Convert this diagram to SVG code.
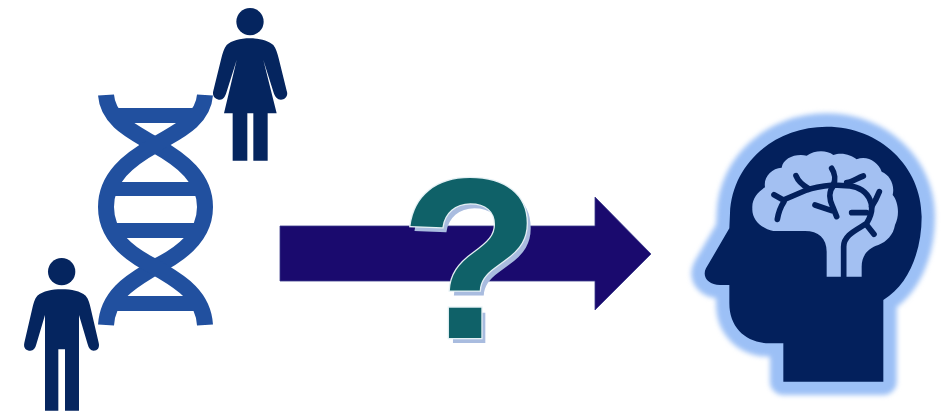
<svg xmlns="http://www.w3.org/2000/svg" width="949" height="418" viewBox="0 0 949 418">
<style>
.person{fill:#05255f}
.strand{fill:none;stroke:#21509f;stroke-width:16}
.rung{fill:#21509f}
.q{font-family:"Liberation Sans",Arial,sans-serif;font-weight:700;font-size:229px}
.vein{fill:none;stroke:#03205c;stroke-width:17;stroke-linecap:round;stroke-linejoin:round}
</style>
<defs>
<filter id="glow" x="-30%" y="-30%" width="160%" height="160%" color-interpolation-filters="sRGB"><feGaussianBlur stdDeviation="8"/></filter>
<path id="headShape" d="M340 845H640V600C715 555 755 455 755 350C755 200 630 80 470 80C310 80 185 195 180 340L178 385L108 505C95 530 115 555 150 555H178V610C178 685 230 730 300 730H340Z"/>
</defs>
<rect width="949" height="418" fill="#fff"/>
<g id="dna">
<path class="strand" d="M106 95C108 122 136 133 155 145C182 160 205 178 205 207C205 236 182 254 155 267C136 279 108 292 106 325"/>
<path class="strand" d="M205 95C203 122 174 133 155 145C128 160 106 178 106 207C106 236 128 254 155 267C174 279 203 292 205 325"/>
<rect class="rung" x="112" y="108" width="88" height="15"/>
<rect class="rung" x="112" y="182" width="88" height="14"/>
<rect class="rung" x="112" y="223" width="88" height="15"/>
<rect class="rung" x="112" y="296" width="88" height="15"/>
</g>
<g id="woman" class="person" transform="scale(.33333)">
<circle cx="750" cy="65" r="41"/>
<path d="M750 115C720 115 695 122 680 135C672 145 668 160 664 175L640 272C635 290 648 299 660 299C670 299 675 290 679 278L710 180L672 340H698V482H742V340H760V482H803V340H830L790 180L821 278C825 290 832 299 843 299C855 299 866 288 860 272L836 175C832 160 828 145 820 135C805 122 780 115 750 115Z"/>
</g>
<g id="man" class="person" transform="scale(.33333)">
<circle cx="185" cy="815" r="41"/>
<path d="M185 868C155 868 130 873 112 887C103 897 100 912 97 925L73 1028C69 1045 80 1052 91 1052C100 1052 106 1045 109 1033L135 945V1232H175V1048H195V1232H237V945L263 1033C266 1045 272 1052 281 1052C292 1052 300 1043 296 1028L272 925C269 912 266 897 257 887C240 873 215 868 185 868Z"/>
</g>
<g id="connectors">
<path id="arrow" d="M280 226H595V197L651 254L595 310V281H280Z" fill="#1a0a6e" stroke="#3a3a8c" stroke-width=".8"/>
</g>
<g id="question">
<text class="q" x="404" y="343" fill="#a9bcdf">?</text>
<text class="q" x="400" y="338" fill="#0f6168" stroke="#e4f0f4" stroke-width="2.5" paint-order="stroke">?</text>
</g>
<g id="head" transform="translate(670 100) scale(.33333)">
<use href="#headShape" fill="#9cc0f6" stroke="#9cc0f6" stroke-width="80" stroke-linejoin="round" filter="url(#glow)"/>
<use href="#headShape" fill="#03205c"/>
<path fill="#a3c0f2" d="M470 530V455C470 415 445 393 405 393H310C275 385 245 360 247 325C245 295 265 275 285 262C280 230 305 205 335 203C340 175 375 160 410 167C435 150 470 150 490 165C515 155 545 165 560 178C590 165 625 185 635 215C660 225 675 255 668 285C685 305 690 345 675 375C670 405 650 425 625 435C595 445 575 465 575 500V530Z"/>
<path class="vein" style="fill:none" d="M521 530V440C521 405 560 390 590 370C605 345 610 320 600 300C590 275 565 260 540 258L490 255C460 258 430 262 410 270L340 300L312 284"/>
<path class="vein" d="M378 227C385 245 398 255 415 265M490 255C497 240 495 220 485 205M530 248C545 248 560 235 580 228M342 305C332 320 325 340 322 358M490 258C475 275 478 300 488 320L500 350M435 315L485 332M545 338H590M590 375L612 403M605 320C615 305 622 290 628 275"/>
</g>
</svg>
